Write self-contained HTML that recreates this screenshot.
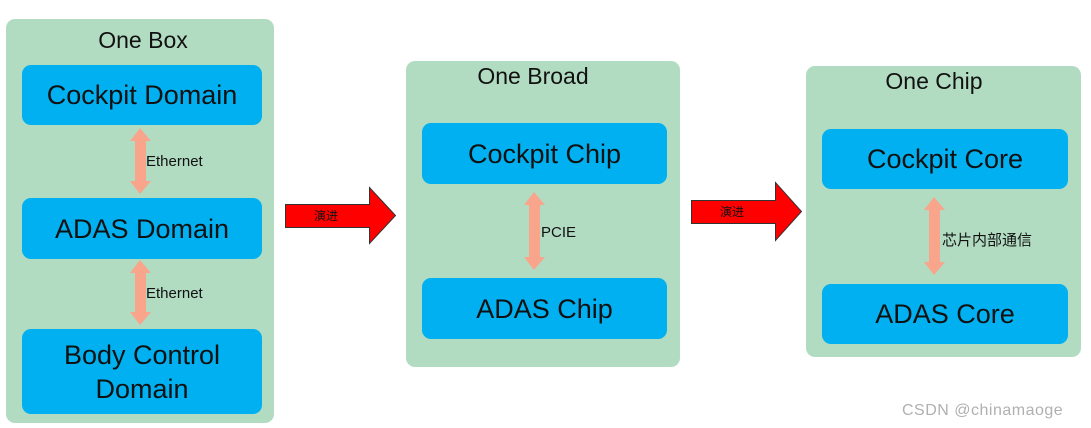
<!DOCTYPE html>
<html><head><meta charset="utf-8"><style>
body{margin:0;width:1091px;height:428px;background:#fff;position:relative;overflow:hidden;font-family:"Liberation Sans","Noto Sans CJK SC",sans-serif}
.g{position:absolute;background:#b2dcc2;border-radius:9px}
.b{position:absolute;background:#00b0f0;border-radius:9px;color:#111;font-size:27px;display:flex;align-items:center;justify-content:center;text-align:center;line-height:34px}
.t{position:absolute;font-size:23px;color:#111;text-align:center}
.l{position:absolute;font-size:15px;color:#111}
svg{position:absolute;left:0;top:0}
</style></head><body>
<div class="g" style="left:6px;top:19px;width:268px;height:404px"></div>
<div class="g" style="left:406px;top:61px;width:274px;height:306px"></div>
<div class="g" style="left:806px;top:66px;width:275px;height:291px"></div>
<div class="t" style="left:6px;width:274px;top:27px">One Box</div>
<div class="t" style="left:406px;width:254px;top:63px">One Broad</div>
<div class="t" style="left:806px;width:256px;top:68px">One Chip</div>
<div class="b" style="left:22px;top:65px;width:240px;height:60px">Cockpit Domain</div>
<div class="b" style="left:22px;top:198px;width:240px;height:61px">ADAS Domain</div>
<div class="b" style="left:22px;top:329px;width:240px;height:85px">Body Control<br>Domain</div>
<div class="b" style="left:422px;top:123px;width:245px;height:61px">Cockpit Chip</div>
<div class="b" style="left:422px;top:278px;width:245px;height:61px">ADAS Chip</div>
<div class="b" style="left:822px;top:129px;width:246px;height:60px">Cockpit Core</div>
<div class="b" style="left:822px;top:284px;width:246px;height:60px">ADAS Core</div>
<svg width="1091" height="428">
<g fill="#f8a58c">
<polygon points="140,128 151,141 146,141 146,181 151,181 140,194 130,181 135,181 135,141 130,141"/>
<polygon points="140,260 151,273 146,273 146,312 151,312 140,325 130,312 135,312 135,273 130,273"/>
<polygon points="534,192 545,205 540,205 540,257 545,257 534,270 524,257 529,257 529,205 524,205"/>
<polygon points="934,197 945,210 940,210 940,262 945,262 934,275 924,262 929,262 929,210 924,210"/>
</g>
<g fill="#ff0000" stroke="#333" stroke-width="1">
<polygon points="285.5,204.5 369.5,204.5 369.5,187.5 395.5,215.5 369.5,243.5 369.5,227.5 285.5,227.5"/>
<polygon points="691.5,200.5 775.5,200.5 775.5,182.5 801.5,211.5 775.5,240.5 775.5,223.5 691.5,223.5"/>
</g>
<text x="326" y="220" font-size="12" fill="#111" text-anchor="middle" font-family="Noto Sans CJK SC,sans-serif">演进</text>
<text x="732" y="216" font-size="12" fill="#111" text-anchor="middle" font-family="Noto Sans CJK SC,sans-serif">演进</text>
</svg>
<div class="l" style="left:146px;top:153px">Ethernet</div>
<div class="l" style="left:146px;top:285px">Ethernet</div>
<div class="l" style="left:541px;top:224px">PCIE</div>
<div class="l" style="left:942px;top:229px">芯片内部通信</div>
<div style="position:absolute;left:902px;top:402px;font-size:16px;color:#b0b0b0;letter-spacing:0.5px">CSDN @chinamaoge</div>
</body></html>
